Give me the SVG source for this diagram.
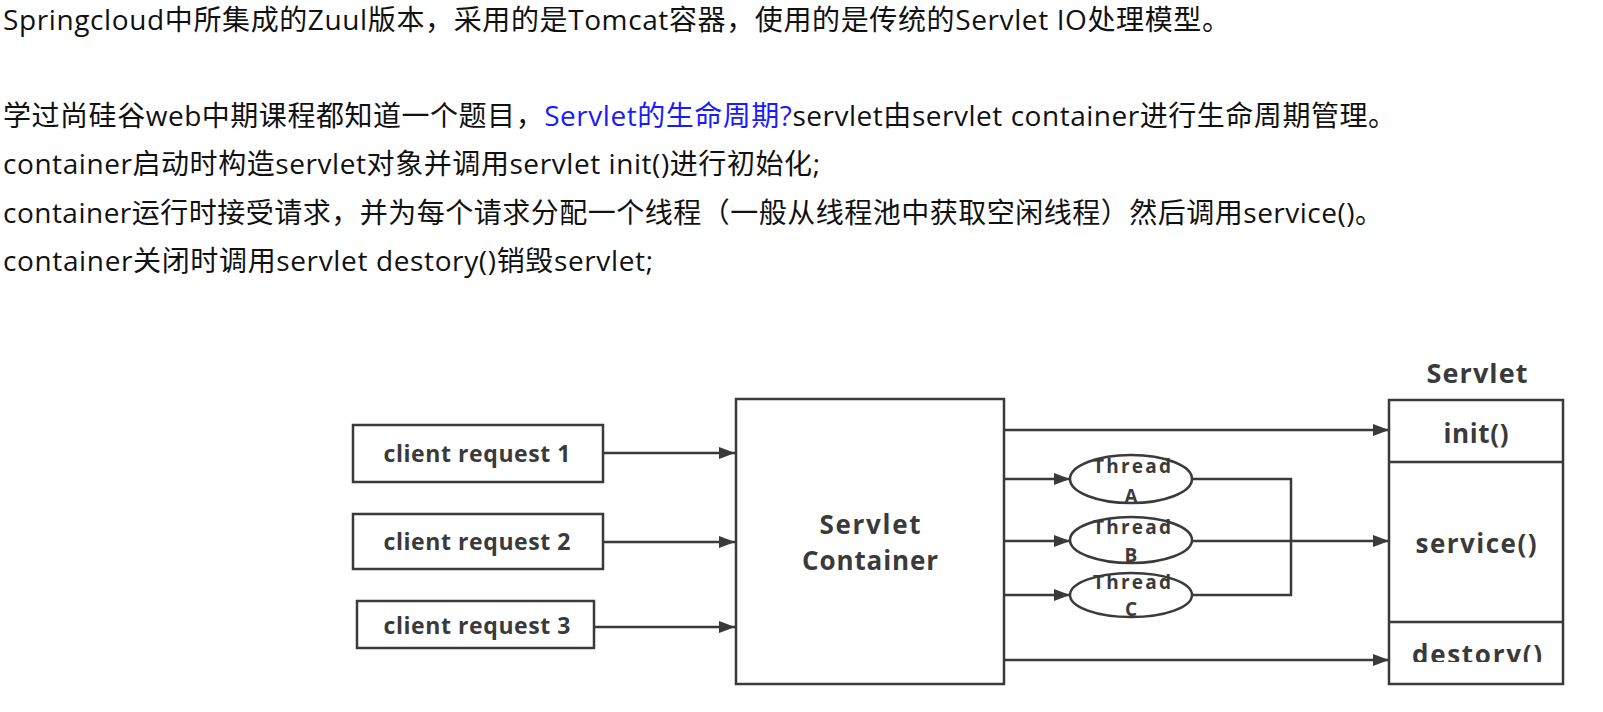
<svg xmlns="http://www.w3.org/2000/svg" width="1603" height="712" viewBox="0 0 1603 712">
<style>
.t{font-family:"Open Sans","Noto Sans CJK SC",sans-serif;font-size:28px;fill:#111}
.blue{fill:#1a1aff}
.box{fill:#fff;stroke:#3a3a3a;stroke-width:2.5}
.lbl{font-family:"Open Sans","Noto Sans CJK SC",sans-serif;font-weight:bold;fill:#3a3a3a;text-anchor:middle;dominant-baseline:central}
.ln{fill:none;stroke:#3a3a3a;stroke-width:2.5}
</style>
<defs>
<marker id="ah" markerWidth="16" markerHeight="12" refX="16" refY="6" orient="auto" markerUnits="userSpaceOnUse">
<path d="M0,0 L16,6 L0,12 Z" fill="#3a3a3a"/>
</marker>
<clipPath id="clipD"><rect x="1390" y="623" width="172" height="39"/></clipPath>
</defs>
<rect width="1603" height="712" fill="#fff"/>
<g id="intro">
<text class="t" x="3" y="30" textLength="1227">Springcloud中所集成的Zuul版本，采用的是Tomcat容器，使用的是传统的Servlet IO处理模型。</text>
<text class="t" x="3" y="126" textLength="1393">学过尚硅谷web中期课程都知道一个题目，<tspan class="blue">Servlet的生命周期?</tspan>servlet由servlet container进行生命周期管理。</text>
<text class="t" x="3" y="174" textLength="817">container启动时构造servlet对象并调用servlet init()进行初始化;</text>
<text class="t" x="3" y="223" textLength="1380">container运行时接受请求，并为每个请求分配一个线程（一般从线程池中获取空闲线程）然后调用service()。</text>
<text class="t" x="3" y="271" textLength="650">container关闭时调用servlet destory()销毁servlet;</text>
</g>
<g id="connectors">
<line class="ln" x1="603" y1="453" x2="735" y2="453" marker-end="url(#ah)"/>
<line class="ln" x1="603" y1="542" x2="735" y2="542" marker-end="url(#ah)"/>
<line class="ln" x1="594" y1="627" x2="735" y2="627" marker-end="url(#ah)"/>
<line class="ln" x1="1004" y1="430" x2="1389" y2="430" marker-end="url(#ah)"/>
<line class="ln" x1="1004" y1="479" x2="1070" y2="479" marker-end="url(#ah)"/>
<line class="ln" x1="1004" y1="541" x2="1070" y2="541" marker-end="url(#ah)"/>
<line class="ln" x1="1004" y1="595" x2="1070" y2="595" marker-end="url(#ah)"/>
<polyline class="ln" points="1192,479 1291,479 1291,595 1192,595"/>
<line class="ln" x1="1192" y1="541" x2="1389" y2="541" marker-end="url(#ah)"/>
<line class="ln" x1="1004" y1="660" x2="1389" y2="660" marker-end="url(#ah)"/>
</g>
<g id="req1"><rect class="box" x="353" y="425" width="250" height="57"/><text class="lbl" x="477" y="453" font-size="23" textLength="187">client request 1</text></g>
<g id="req2"><rect class="box" x="353" y="514" width="250" height="55"/><text class="lbl" x="477" y="541" font-size="23" textLength="187">client request 2</text></g>
<g id="req3"><rect class="box" x="357" y="601" width="237" height="47"/><text class="lbl" x="477" y="625" font-size="23" textLength="187">client request 3</text></g>
<g id="container"><rect class="box" x="736" y="399" width="268" height="285"/><text class="lbl" x="870" y="524" font-size="26" textLength="101">Servlet</text><text class="lbl" x="870" y="560" font-size="26" textLength="136">Container</text></g>
<g id="threadA"><ellipse class="box" cx="1131" cy="479" rx="61" ry="24"/><text class="lbl" x="1132" y="466" font-size="19" textLength="78">Thread</text><text class="lbl" x="1131" y="496" font-size="19">A</text></g>
<g id="threadB"><ellipse class="box" cx="1131" cy="540" rx="61" ry="23"/><text class="lbl" x="1132" y="527" font-size="19" textLength="78">Thread</text><text class="lbl" x="1131" y="555" font-size="19">B</text></g>
<g id="threadC"><ellipse class="box" cx="1131" cy="595" rx="61" ry="22"/><text class="lbl" x="1132" y="582" font-size="19" textLength="78">Thread</text><text class="lbl" x="1131" y="609" font-size="19">C</text></g>
<g id="servlet">
<text class="lbl" x="1477" y="372" font-size="27" textLength="101">Servlet</text>
<rect class="box" x="1389" y="400" width="174" height="284"/>
<line class="ln" x1="1389" y1="462" x2="1563" y2="462"/>
<line class="ln" x1="1389" y1="622" x2="1563" y2="622"/>
<text class="lbl" x="1476" y="433" font-size="26" textLength="65">init()</text>
<text class="lbl" x="1476" y="543" font-size="26" textLength="121">service()</text>
<text class="lbl" x="1477" y="654" font-size="26" textLength="130" clip-path="url(#clipD)">destory()</text>
</g>
</svg>
